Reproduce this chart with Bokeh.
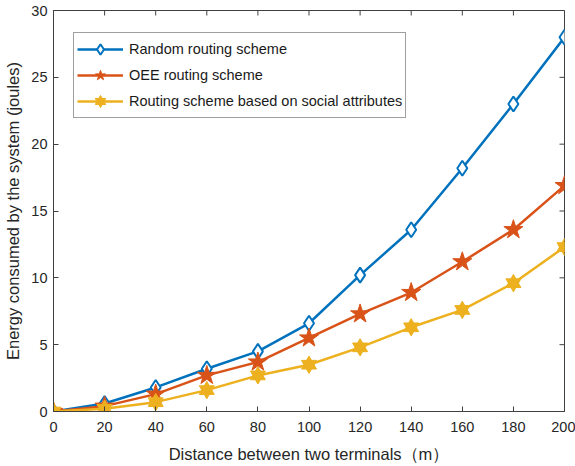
from bokeh.plotting import figure
from bokeh.models import Range1d, FixedTicker, Legend, LegendItem
from bokeh.embed import file_html
from bokeh.resources import INLINE

distance = [0, 20, 40, 60, 80, 100, 120, 140, 160, 180, 200]
random_scheme = [0, 0.6, 1.8, 3.2, 4.5, 6.6, 10.2, 13.6, 18.2, 23.0, 28.0]
oee_scheme = [0, 0.4, 1.3, 2.7, 3.7, 5.5, 7.3, 8.9, 11.2, 13.6, 16.9]
social_scheme = [0, 0.2, 0.7, 1.6, 2.7, 3.5, 4.8, 6.3, 7.6, 9.6, 12.3]

x_ticks = [0, 20, 40, 60, 80, 100, 120, 140, 160, 180, 200]
y_ticks = [0, 5, 10, 15, 20, 25, 30]
labels = ["Random routing scheme", "OEE routing scheme",
          "Routing scheme based on social attributes"]

BLUE = "#0072BD"
ORANGE = "#D95319"
YELLOW = "#EDB120"
AX = "#404040"
FONT = "Liberation Sans"

X_MIN, X_MAX = x_ticks[0], x_ticks[-1]
Y_MIN, Y_MAX = y_ticks[0], y_ticks[-1]

p = figure(width=575, height=465, output_backend="svg", toolbar_location=None,
           x_range=Range1d(X_MIN, X_MAX), y_range=Range1d(Y_MIN, Y_MAX),
           min_border_left=53, min_border_right=11, min_border_top=10, min_border_bottom=52)
p.xgrid.visible = False
p.ygrid.visible = False
p.outline_line_color = AX
p.outline_line_width = 1

for ax, ticks in ((p.xaxis[0], x_ticks), (p.yaxis[0], y_ticks)):
    ax.ticker = FixedTicker(ticks=ticks)
    ax.major_tick_in = 5
    ax.major_tick_out = 0
    ax.minor_tick_line_color = None
    ax.axis_line_color = AX
    ax.major_tick_line_color = AX
    ax.major_label_text_font = FONT
    ax.major_label_text_font_size = "14.5px"
    ax.major_label_text_color = "#262626"
    ax.axis_label_text_font = FONT
    ax.axis_label_text_font_size = "16.5px"
    ax.axis_label_text_font_style = "normal"
    ax.axis_label_text_color = "#262626"

p.xaxis[0].axis_label = "Distance between two terminals（m）"
p.yaxis[0].axis_label = "Energy consumed by the system (joules)"
p.xaxis[0].major_label_standoff = 10
p.xaxis[0].axis_label_standoff = 10
p.yaxis[0].major_label_standoff = 6
p.yaxis[0].axis_label_standoff = 6

# mirrored inward ticks on the top and right edges (half of each dash is clipped by the frame)
p.scatter(x_ticks, [Y_MAX] * len(x_ticks), marker="dash", size=10, angle=1.5708,
          line_color=AX, line_width=1)
p.scatter([X_MAX] * len(y_ticks), y_ticks, marker="dash", size=10,
          line_color=AX, line_width=1)

# Random
l1 = p.line(distance, random_scheme, line_color=BLUE, line_width=2.5)
m1 = p.scatter(distance, random_scheme, marker="diamond", size=15,
               line_color=BLUE, line_width=2, fill_color="white")
# OEE
l2 = p.line(distance, oee_scheme, line_color=ORANGE, line_width=2.5)
m2 = p.scatter(distance, oee_scheme, marker="star", size=20,
               line_color=ORANGE, fill_color=ORANGE)
# Social
l3 = p.line(distance, social_scheme, line_color=YELLOW, line_width=2.5)
m3a = p.scatter(distance, social_scheme, marker="triangle", size=15,
                line_color=YELLOW, fill_color=YELLOW)
m3b = p.scatter(distance, social_scheme, marker="inverted_triangle", size=15,
                line_color=YELLOW, fill_color=YELLOW)

legend = Legend(items=[
    LegendItem(label=labels[0], renderers=[l1, m1]),
    LegendItem(label=labels[1], renderers=[l2, m2]),
    LegendItem(label=labels[2], renderers=[l3, m3a, m3b]),
], location=(20, 293))
legend.margin = 0
legend.padding = 3
legend.spacing = 0
legend.glyph_width = 46
legend.glyph_height = 26
legend.label_height = 26
legend.label_standoff = 6
legend.label_text_font = FONT
legend.label_text_font_size = "14.5px"
legend.label_text_color = "#1a1a1a"
legend.border_line_color = AX
legend.border_line_width = 1
legend.background_fill_alpha = 1
p.add_layout(legend)

open("out.html", "w").write(file_html(p, INLINE))
